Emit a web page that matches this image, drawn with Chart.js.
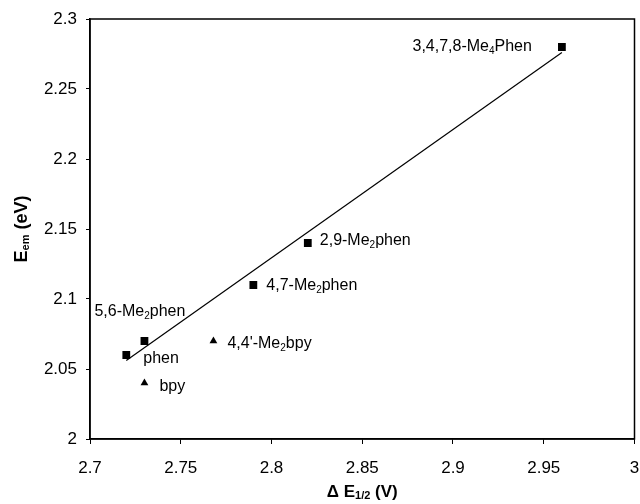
<!DOCTYPE html>
<html>
<head>
<meta charset="utf-8">
<script src="https://cdn.jsdelivr.net/npm/chart.js@4/dist/chart.umd.min.js"></script>
<style>
  html, body { margin:0; padding:0; background:#fff; }
  #chart { display:block; }
</style>
</head>
<body>
<canvas id="chart" width="640" height="504"></canvas>
<script>
// data
var squareX=[2.72, 2.73, 2.79, 2.82, 2.96];
var squareY=[2.06, 2.07, 2.11, 2.14, 2.28];
var squareNames=['phen', '5,6-Me_2phen', '4,7-Me_2phen', '2,9-Me_2phen', '3,4,7,8-Me_4Phen'];
var triX=[2.73, 2.768];
var triY=[2.04, 2.07];
var triNames=['bpy', "4,4'-Me_2bpy"];
var fitX=[2.72, 2.96];
var fitY=[2.056, 2.276];
var xMin=2.7, xMax=3, xStep=0.05;
var yMin=2, yMax=2.3, yStep=0.05;

// where each label sits relative to its point (px) and how it is aligned
var labelPos={
  'phen':[17, 4, 'left'],
  '5,6-Me_2phen':[-50, -29, 'left'],
  '4,7-Me_2phen':[13, 1, 'left'],
  '2,9-Me_2phen':[12, -2, 'left'],
  '3,4,7,8-Me_4Phen':[-30, 0, 'right'],
  'bpy':[15, 4, 'left'],
  "4,4'-Me_2bpy":[14, 3, 'left']
};

var FONT='"Liberation Sans", Arial, Helvetica, sans-serif';

function toPts(xs, ys){
  return xs.map(function(x,i){ return {x:x, y:ys[i]}; });
}

// split "Me_2phen" into normal / subscript parts
function parts(str){
  var out=[], re=/_\{([^}]*)\}|_(.)/g, last=0, m;
  while((m=re.exec(str))){
    if(m.index>last) out.push([str.slice(last,m.index), false]);
    out.push([m[1]!==undefined?m[1]:m[2], true]);
    last=re.lastIndex;
  }
  if(last<str.length) out.push([str.slice(last), false]);
  return out;
}

function richWidth(ctx, segs, big, small){
  var w=0;
  segs.forEach(function(s){ ctx.font=s[1]?small:big; w+=ctx.measureText(s[0]).width; });
  return w;
}

function drawRich(ctx, str, x, y, align, big, small, subDrop){
  var segs=parts(str);
  var w=richWidth(ctx, segs, big, small);
  var cx = align==='right' ? x-w : align==='center' ? x-w/2 : x;
  ctx.textBaseline='middle';
  ctx.textAlign='left';
  segs.forEach(function(s){
    ctx.font=s[1]?small:big;
    ctx.fillText(s[0], cx, s[1]? y+subDrop : y);
    cx+=ctx.measureText(s[0]).width;
  });
}

var annotatePlugin={
  id:'annotate',
  afterDatasetsDraw:function(chart){
    var ctx=chart.ctx, xs=chart.scales.x, ys=chart.scales.y, a=chart.chartArea;
    ctx.save();
    // frame round the plot
    ctx.strokeStyle='#000';
    ctx.lineWidth=1.5;
    ctx.strokeRect(a.left, a.top, a.right-a.left, a.bottom-a.top);
    ctx.fillStyle='#000';
    function lab(xv, yv, name){
      var p=labelPos[name];
      drawRich(ctx, name, xs.getPixelForValue(xv)+p[0], ys.getPixelForValue(yv)+p[1], p[2],
        '16px '+FONT, '10px '+FONT, 4);
    }
    squareNames.forEach(function(n,i){ lab(squareX[i], squareY[i], n); });
    triNames.forEach(function(n,i){ lab(triX[i], triY[i], n); });
    // axis titles
    drawRich(ctx, '\u0394 E_{1/2} (V)', (a.left+a.right)/2, 492, 'center',
      'bold 17px '+FONT, 'bold 11px '+FONT, 4);
    ctx.translate(22, (a.top+a.bottom)/2);
    ctx.rotate(-Math.PI/2);
    drawRich(ctx, 'E_{em} (eV)', 0, 0, 'center', 'bold 18px '+FONT, 'bold 11px '+FONT, 4);
    ctx.restore();
  }
};

var chartConfig={
  type:'scatter',
  data:{
    datasets:[{
      label:'fit',
      data:toPts(fitX, fitY),
      showLine:true,
      borderColor:'#000',
      borderWidth:1.2,
      pointRadius:0,
      fill:false
    },{
      label:'phen',
      data:toPts(squareX, squareY),
      pointStyle:'rect',
      pointRadius:5.5,
      backgroundColor:'#000',
      borderColor:'#000',
      borderWidth:0
    },{
      label:'bpy',
      data:toPts(triX, triY),
      pointStyle:'triangle',
      pointRadius:4.5,
      backgroundColor:'#000',
      borderColor:'#000',
      borderWidth:0
    }]
  },
  options:{
    responsive:false,
    animation:false,
    layout:{padding:{top:19, right:0, left:0, bottom:0}},
    plugins:{legend:{display:false}, tooltip:{enabled:false}},
    scales:{
      x:{
        type:'linear',
        min:xMin, max:xMax,
        ticks:{stepSize:xStep, color:'#000', padding:14, maxRotation:0, font:{family:FONT, size:17},
          callback:function(v){ return +v.toFixed(2); }},
        grid:{drawOnChartArea:false, drawTicks:true, tickLength:5, color:'#000'},
        border:{color:'#000', width:1.5},
        afterFit:function(s){ s.height=65; s.paddingRight=5; s.paddingLeft=0; }
      },
      y:{
        type:'linear',
        min:yMin, max:yMax,
        ticks:{stepSize:yStep, color:'#000', padding:9, font:{family:FONT, size:17},
          callback:function(v){ return +v.toFixed(2); }},
        grid:{drawOnChartArea:false, drawTicks:true, tickLength:4, color:'#000'},
        border:{color:'#000', width:1.5},
        afterFit:function(s){ s.width=90; s.paddingTop=0; s.paddingBottom=0; }
      }
    }
  },
  plugins:[annotatePlugin]
};
var chart=new Chart(document.getElementById('chart'), chartConfig);
</script>
</body>
</html>
